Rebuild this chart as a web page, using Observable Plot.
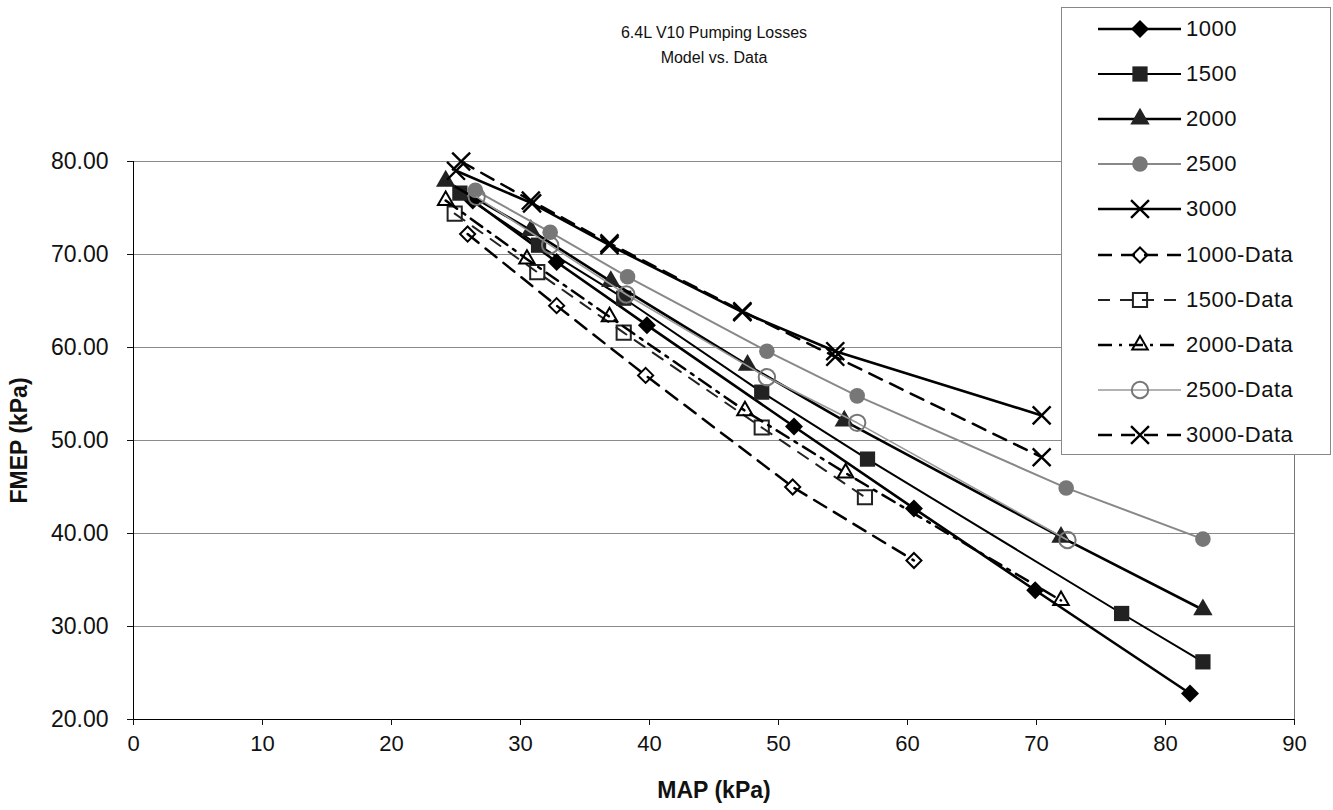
<!DOCTYPE html>
<html><head><meta charset="utf-8">
<script src="https://cdn.jsdelivr.net/npm/d3@7"></script>
<script src="https://cdn.jsdelivr.net/npm/@observablehq/plot@0.6"></script>
<style>
body{margin:0;background:#fff;font-family:"Liberation Sans",Arial,sans-serif;}
#wrap{position:relative;width:1333px;height:810px;overflow:hidden;}
#legend{position:absolute;left:1061px;top:7px;width:270px;height:448px;border:1px solid #888;background:#fff;box-sizing:border-box;}
.row{position:absolute;left:0;height:30px;width:270px;}
.row svg{position:absolute;left:35px;top:0;}
.row span{position:absolute;left:124px;top:2px;font-size:22px;letter-spacing:0.5px;color:#111;line-height:26px;}
</style></head><body><div id="wrap"></div>
<script>
// ---- data ----
const mapTicks = [0, 10, 20, 30, 40, 50, 60, 70, 80, 90];
const fmepTicks = [20, 30, 40, 50, 60, 70, 80];

const map1000 = [26.3, 32.8, 39.8, 51.2, 60.5, 69.9, 81.9];
const fmep1000 = [75.8, 69.2, 62.4, 51.5, 42.7, 33.9, 22.8];
const map1500 = [25.3, 31.4, 38.0, 48.7, 56.9, 76.6, 82.9];
const fmep1500 = [76.6, 71.0, 65.3, 55.2, 48.0, 31.4, 26.2];
const map2000 = [24.2, 30.8, 37.0, 47.6, 55.1, 71.9, 82.9];
const fmep2000 = [77.9, 72.6, 67.1, 58.1, 52.1, 39.6, 31.8];
const map2500 = [26.5, 32.3, 38.3, 49.1, 56.1, 72.3, 82.9];
const fmep2500 = [76.9, 72.4, 67.6, 59.6, 54.8, 44.9, 39.4];
const map3000 = [25.0, 30.9, 36.9, 47.2, 54.4, 70.4];
const fmep3000 = [79.0, 75.5, 71.0, 63.8, 59.6, 52.7];

const map1000d = [25.9, 32.8, 39.7, 51.1, 60.5];
const fmep1000d = [72.2, 64.5, 57.0, 45.0, 37.1];
const map1500d = [24.9, 31.3, 38.0, 48.7, 56.7];
const fmep1500d = [74.4, 68.1, 61.6, 51.4, 43.9];
const map2000d = [24.2, 30.5, 36.9, 47.4, 55.2, 71.9];
const fmep2000d = [75.8, 69.5, 63.3, 53.2, 46.5, 32.8];
const map2500d = [26.6, 32.3, 38.2, 49.1, 56.1, 72.4];
const fmep2500d = [76.2, 71.0, 65.7, 56.8, 51.9, 39.3];
const map3000d = [25.4, 30.8, 36.9, 47.2, 54.4, 70.4];
const fmep3000d = [80.0, 75.8, 71.2, 63.9, 59.0, 48.2];

const seriesNames = ["1000", "1500", "2000", "2500", "3000", "1000-Data", "1500-Data", "2000-Data", "2500-Data", "3000-Data"];
const seriesX = [map1000, map1500, map2000, map2500, map3000, map1000d, map1500d, map2000d, map2500d, map3000d];
const seriesY = [fmep1000, fmep1500, fmep2000, fmep2500, fmep3000, fmep1000d, fmep1500d, fmep2000d, fmep2500d, fmep3000d];

// ---- styles ----
const styles = {
  "1000":      {symbol: "diamond2", r: 8.1, fill: "#000", stroke: "none", sw: 0, line: "#000", lw: 2.6, dash: null},
  "1500":      {symbol: "square", r: 8.6, fill: "#222", stroke: "none", sw: 0, line: "#000", lw: 2, dash: null},
  "2000":      {symbol: "triangle", r: 7.2, fill: "#222", stroke: "none", sw: 0, line: "#000", lw: 2.6, dash: null},
  "2500":      {symbol: "circle", r: 7.8, fill: "#777", stroke: "none", sw: 0, line: "#888", lw: 2, dash: null},
  "3000":      {symbol: "times", r: 8.2, fill: "none", stroke: "#000", sw: 2.4, line: "#000", lw: 2.6, dash: null},
  "1000-Data": {symbol: "diamond2", r: 6.8, fill: "none", stroke: "#000", sw: 2, line: "#000", lw: 2.5, dash: "14,9"},
  "1500-Data": {symbol: "square", r: 8.0, fill: "none", stroke: "#222", sw: 2, line: "#222", lw: 2, dash: "12,10"},
  "2000-Data": {symbol: "triangle2", r: 7.4, fill: "none", stroke: "#000", sw: 2, line: "#000", lw: 2.5, dash: "14,7,3,7"},
  "2500-Data": {symbol: "circle", r: 8.2, fill: "none", stroke: "#777", sw: 2, line: "#999", lw: 1.6, dash: null},
  "3000-Data": {symbol: "times", r: 8.2, fill: "none", stroke: "#000", sw: 2.4, line: "#000", lw: 2.5, dash: "14,9"}
};

const rows = seriesNames.map((name, k) => seriesX[k].map((x, i) => ({series: name, map: x, fmep: seriesY[k][i]})));

const marks = [
  Plot.ruleY(fmepTicks.slice(1), {stroke: "#8a8a8a", strokeWidth: 1}),
  Plot.ruleX([90], {stroke: "#777", strokeWidth: 1}),
  Plot.ruleX([0], {stroke: "#000", strokeWidth: 1}),
  Plot.ruleY([20], {stroke: "#000", strokeWidth: 1.2}),
  Plot.axisY({ticks: fmepTicks, tickFormat: d => d.toFixed(2), tickSize: 6, tickPadding: 19, fontSize: 23, label: null}),
  Plot.axisX({ticks: mapTicks, tickFormat: d => String(d), tickSize: 6, tickPadding: 10, fontSize: 22, label: null}),
];
seriesNames.forEach((name, k) => {
  const s = styles[name];
  marks.push(Plot.line(rows[k], {x: "map", y: "fmep", stroke: s.line, strokeWidth: s.lw, strokeDasharray: s.dash || undefined}));
  marks.push(Plot.dot(rows[k], {x: "map", y: "fmep", symbol: s.symbol, r: s.r, fill: s.fill, stroke: s.stroke, strokeWidth: s.sw}));
});
marks.push(
  Plot.text(["6.4L V10 Pumping Losses"], {text: d => d, frameAnchor: "top", dy: -129, lineAnchor: "middle", fontSize: 16, fill: "#111"}),
  Plot.text(["Model vs. Data"], {text: d => d, frameAnchor: "top", dy: -104, lineAnchor: "middle", fontSize: 16, fill: "#111"}),
  Plot.text(["MAP (kPa)"], {text: d => d, frameAnchor: "bottom", dy: 71, lineAnchor: "middle", textAnchor: "middle", fontSize: 23, fontWeight: "bold", fill: "#111"}),
  Plot.text(["FMEP (kPa)"], {text: d => d, frameAnchor: "left", dx: -114, rotate: -90, lineAnchor: "middle", textAnchor: "middle", fontSize: 23, fontWeight: "bold", fill: "#111"})
);

const chart = Plot.plot({
  width: 1333, height: 810,
  marginLeft: 133, marginRight: 39, marginTop: 161, marginBottom: 91,
  x: {domain: [0, 90]},
  y: {domain: [20, 80]},
  style: {fontFamily: "'Liberation Sans', Arial, sans-serif", background: "#fff", color: "#111", overflow: "visible"},
  marks
});
const wrap = document.getElementById("wrap");
wrap.appendChild(chart);

// ---- legend ----
const legend = document.createElement("div");
legend.id = "legend";
wrap.appendChild(legend);
const symMap = {diamond2: d3.symbolDiamond2, square: d3.symbolSquare, triangle: d3.symbolTriangle, triangle2: d3.symbolTriangle2, circle: d3.symbolCircle, times: d3.symbolTimes};
seriesNames.forEach((name, k) => {
  const s = styles[name];
  const row = document.createElement("div");
  row.className = "row";
  row.style.top = (6 + k * 45.1) + "px";
  const svg = d3.create("svg").attr("width", 86).attr("height", 30);
  svg.append("line").attr("x1", 1).attr("x2", 84).attr("y1", 15).attr("y2", 15)
    .attr("stroke", s.line).attr("stroke-width", s.lw).attr("stroke-dasharray", s.dash || null);
  svg.append("path").attr("transform", "translate(43,15)")
    .attr("d", d3.symbol(symMap[s.symbol], s.r * s.r * Math.PI)())
    .attr("fill", s.fill).attr("stroke", s.stroke).attr("stroke-width", s.sw);
  row.appendChild(svg.node());
  const span = document.createElement("span");
  span.textContent = name;
  row.appendChild(span);
  legend.appendChild(row);
});
</script></body></html>
